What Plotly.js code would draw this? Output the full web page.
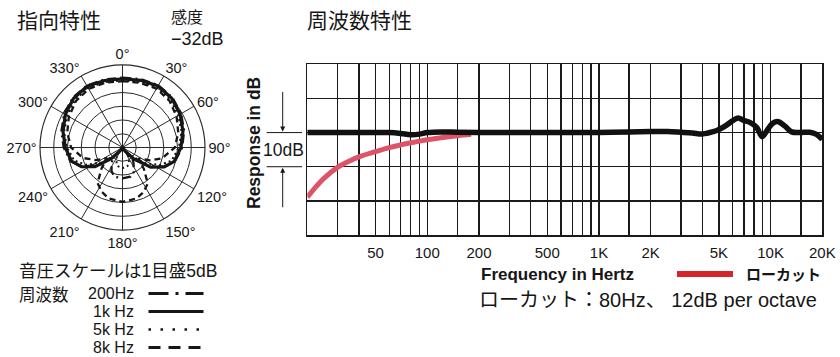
<!DOCTYPE html>
<html>
<head>
<meta charset="utf-8">
<script src="https://cdn.plot.ly/plotly-3.0.1.min.js"></script>
<style>html,body{margin:0;padding:0;background:#fff;}#chart{width:840px;height:357px;}</style>
</head>
<body>
<div id="chart"></div>
<script>
// ---- Polar pattern data (dB, scale: 5 dB per ring, centre = -30 dB) ----
const polarAngles = [0,15,30,45,60,75,90,105,115,125,135,145,155,165,180,195,205,215,225,235,245,255,270,285,300,315,330,345,360];
const pattern200Hz = [-4.6,-4.3,-3.9,-4.3,-5.4,-6.8,-8.3,-10.3,-13.5,-18.5,-25,-23,-20.25,-19,-18.75,-19,-20.5,-23.2,-25,-18.8,-13.8,-10.5,-8.6,-7,-5.5,-4.4,-4.0,-4.4,-4.6];
const pattern1kHz  = [-5,-4.7,-4.1,-4.7,-5.8,-7.25,-8.75,-10.5,-13.25,-17.5,-24,-28.5,-30,-30,-30,-30,-30,-28.6,-24.2,-17.8,-13.5,-10.8,-9.2,-7.6,-6.0,-4.8,-4.3,-4.8,-5];
const pattern5kHz  = [-5.6,-5.3,-4.8,-5.4,-6.6,-7.8,-9.5,-11.5,-15,-20,-26,-26.5,-24.5,-23,-22.5,-23,-24.6,-26.5,-26,-20.3,-15.2,-11.8,-9.8,-8,-6.8,-5.6,-5.0,-5.4,-5.6];
const pattern8kHz  = [-5.9,-5.6,-5.3,-5.9,-7.3,-9,-11,-15,-19,-23,-19,-14,-12,-10.75,-10.25,-10.8,-12.2,-14.2,-19.2,-23.2,-19.2,-15.2,-11.3,-9.2,-7.5,-6.1,-5.4,-5.6,-5.9];
const polarTickVals = [0,30,60,90,120,150,180,210,240,270,300,330];
const polarTickText = ["0°","30°","60°","90°","120°","150°","180°","210°","240°","270°","300°","330°"];

// ---- Frequency response data ----
const freqMain = [20,30,40,50,60,70,80,90,100,120,150,200,300,500,700,1000,1500,2000,2500,3000,3500,4000,4630,5000,5540,6060,6480,6930,7570,8290,8930,9550,10270,11070,12120,13250,14800,16900,18500,20000];
const respMain = [0,0,0,0,0,-0.25,-0.6,-0.45,0,0.2,0.1,0,0,0,0,0.05,0.2,0.3,0.3,0.1,-0.1,-0.4,0.25,0.9,2.2,3.6,4.3,3.6,3.0,1.5,-1.2,0.7,2.7,3.2,1.9,0.2,0,0.1,-0.5,-2.0];
const freqLowCut = [20,22,25,30,35,40,50,60,70,80,90,100,120,150,180];
const respLowCut = [-18.9,-16.4,-13.4,-10.2,-8.4,-7.1,-5.6,-4.4,-3.6,-3.0,-2.5,-2.1,-1.5,-0.9,-0.5];
const freqTickVals = [50,100,200,500,1000,2000,5000,10000,20000];
const freqTickText = ["50","100","200","500","1K","2K","5K","10K","20K"];
const freqMinorGrid = [30,40,60,70,80,90,150,300,400,600,700,800,900,1500,3000,4000,6000,7000,8000,9000,15000];

// ---- Legend texts ----
const legendFreqs = ["200Hz","1k Hz","5k Hz","8k Hz"];

const W = 840, H = 357;
const px = x => x / W;
const py = y => 1 - y / H;
const LAT = "Liberation Sans, Arial, sans-serif";
const MIX = "Liberation Sans, 'Noto Sans CJK JP', sans-serif";
const JP = "'Noto Sans CJK JP', sans-serif";
const INK = "#161616";

function polarTrace(r, width, dash) {
  return {type:"scatterpolar", subplot:"polar", mode:"lines", theta: polarAngles, r: r,
          line:{color:INK, width: width, dash: dash}, showlegend:false, hoverinfo:"skip"};
}

const traces = [
  polarTrace(pattern8kHz, 2.3, "6px,4px"),
  polarTrace(pattern5kHz, 2.0, "2px,3px"),
  polarTrace(pattern200Hz, 2.3, "9px,4px,2px,4px"),
  polarTrace(pattern1kHz, 3.2, "solid"),
  {type:"scatter", x: freqLowCut, y: respLowCut, mode:"lines",
   line:{color:"rgb(221,84,104)", width:5, shape:"spline"}, showlegend:false, hoverinfo:"skip"},
  {type:"scatter", x: freqMain, y: respMain, mode:"lines",
   line:{color:"#111", width:5.5, shape:"spline"}, showlegend:false, hoverinfo:"skip"}
];

const legendRowsY = [293.5, 311.5, 329.5, 347.5];
const legendDash = ["20px,7px,3px,7px","solid","2.5px,9.5px","12px,8px"];

function label(text, x, y, size, family, xanchor, extra) {
  return Object.assign({text:text, xref:"paper", yref:"paper", x:px(x), y:py(y), xanchor:xanchor || "left",
    yanchor:"middle", showarrow:false, font:{family:family, size:size, color:INK}}, extra || {});
}

const annotations = [
  label("指向特性", 15, 19, 21, JP),
  label("感度", 169, 16, 16, JP),
  label("−32dB", 169, 38.5, 18, LAT),
  label("周波数特性", 305, 19, 21, JP),
  label("<b>Response in dB</b>", 254, 143, 17.5, LAT, "center", {textangle:-90}),
  label("10dB", 283.5, 0, 17.5, LAT, "center", {yref:"y", y:-5}),
  label("<b>Frequency in Hertz</b>", 479, 274, 17, LAT),
  label("<b>ローカット</b>", 744, 273, 15, JP),
  label("ローカット：80Hz、 12dB per octave", 477, 300, 20, MIX),
  label("音圧スケールは1目盛5dB", 17, 270.5, 17.5, MIX),
  label("周波数", 17, 293.5, 16.5, JP),
  // 10dB arrows
  {text:"", xref:"paper", yref:"y", x:px(282.7), y:0, ax:0, ay:-42, showarrow:true, arrowhead:2, arrowsize:1, arrowwidth:1, arrowcolor:INK, standoff:1},
  {text:"", xref:"paper", yref:"y", x:px(282.7), y:-10, ax:0, ay:42, showarrow:true, arrowhead:2, arrowsize:1, arrowwidth:1, arrowcolor:INK, standoff:1}
];
legendFreqs.forEach((t, i) => {
  annotations.push(label(t, 136, legendRowsY[i], 16, LAT, "right"));
});

const shapes = [
  {type:"line", xref:"paper", yref:"y", x0:px(266.7), x1:px(302), y0:0, y1:0, line:{color:INK, width:1}},
  {type:"line", xref:"paper", yref:"y", x0:px(266.7), x1:px(302), y0:-10, y1:-10, line:{color:INK, width:1}},
  {type:"line", xref:"paper", yref:"paper", x0:px(677), x1:px(733), y0:py(274), y1:py(274), line:{color:"rgb(212,38,42)", width:6}}
];
legendRowsY.forEach((y, i) => {
  shapes.push({type:"line", xref:"paper", yref:"paper", x0:px(148.5), x1:px(203.5), y0:py(y), y1:py(y),
               line:{color:INK, width:i === 2 ? 2.5 : 3, dash:legendDash[i]}});
});

const layout = {
  width: W, height: H,
  margin: {l:0, r:0, t:0, b:0, pad:0},
  paper_bgcolor: "#fff", plot_bgcolor: "#fff",
  showlegend: false,
  polar: {
    domain: {x:[px(40), px(205)], y:[py(230), py(65)]},
    bgcolor: "#fff",
    radialaxis: {range:[-30, 0], tickvals:[-25,-20,-15,-10,-5], showticklabels:false, ticks:"",
                 showline:false, gridcolor:"#2a2a2a", gridwidth:1},
    angularaxis: {rotation:90, direction:"clockwise", tickvals: polarTickVals, ticktext: polarTickText,
                  showline:true, linecolor:"#2a2a2a", linewidth:1.2, gridcolor:"#2a2a2a", gridwidth:1,
                  ticks:"",
                  tickfont:{family:LAT, size:14.5, color:INK}}
  },
  xaxis: {
    domain: [px(307.3), px(822.3)], type:"log", range:[Math.log10(20), Math.log10(20000)],
    tickvals: freqTickVals, ticktext: freqTickText, ticks:"", ticklabelstandoff:3,
    tickfont:{family:LAT, size:15, color:INK},
    showgrid:true, gridcolor:"#1a1a1a", gridwidth:1.4,
    minor:{tickvals: freqMinorGrid, showgrid:true, gridcolor:"#1a1a1a", gridwidth:1.4, ticks:""},
    showline:true, mirror:true, linecolor:"#1a1a1a", linewidth:1.6, zeroline:false, fixedrange:true
  },
  yaxis: {
    domain: [py(235), py(64.3)], range:[-30, 20], tickvals:[-20,-10,0,10], showticklabels:false, ticks:"",
    showgrid:true, gridcolor:"#1a1a1a", gridwidth:1.4,
    showline:true, mirror:true, linecolor:"#1a1a1a", linewidth:1.6, zeroline:false, fixedrange:true
  },
  annotations: annotations,
  shapes: shapes
};

Plotly.newPlot("chart", traces, layout, {staticPlot:true, displayModeBar:false});
</script>
</body>
</html>
